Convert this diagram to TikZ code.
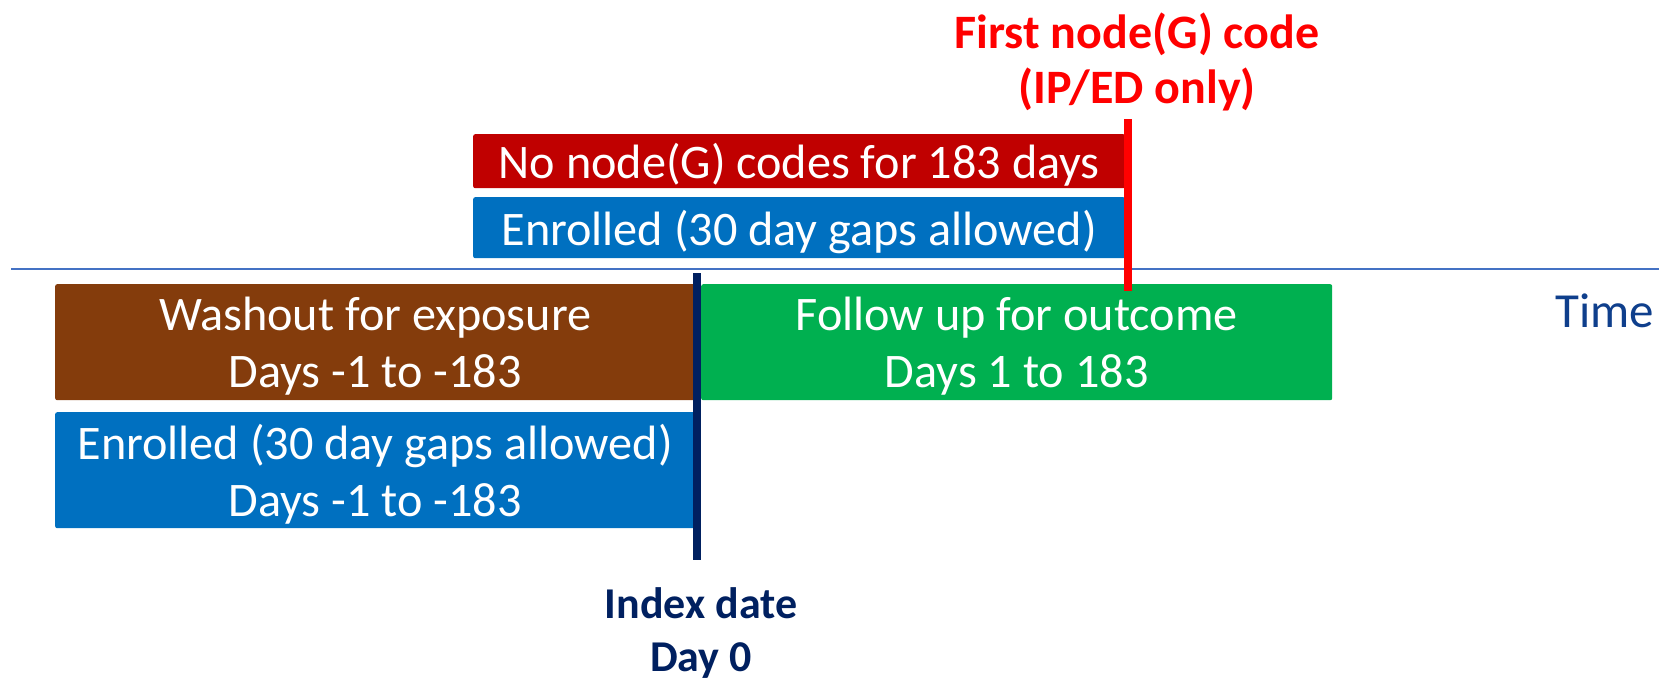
\documentclass[tikz,border=0pt]{standalone}
\usepackage{fontspec}
\setmainfont{Carlito}
\definecolor{boxred}{HTML}{C00000}
\definecolor{boxblue}{HTML}{0070C0}
\definecolor{boxbrown}{HTML}{843C0C}
\definecolor{boxgreen}{HTML}{00B050}
\definecolor{navy}{HTML}{002060}
\definecolor{axisblue}{HTML}{4472C4}
\definecolor{timeblue}{HTML}{0F3F8C}
\definecolor{brightred}{HTML}{FF0000}
\begin{document}
\begin{tikzpicture}[x=1pt,y=-1pt,
  box/.style={rectangle, rounded corners=2pt, text=white, align=center, inner sep=0pt, text depth=0pt, anchor=north west, font=\fontsize{48.2}{57}\selectfont},
  marker/.style={line width=8pt},
  lbl/.style={align=center, inner sep=0pt, anchor=base}]
\useasboundingbox (0,0) rectangle (1659,681);
\coordinate (axL) at (11,269);
\coordinate (axR) at (1659,269);
\draw[axisblue, line width=2pt] (axL) -- (axR);
\node[box, fill=boxred, minimum width=652pt, minimum height=54pt] (nog) at (473,134) {No node(G) codes for 183 days};
\node[box, fill=boxblue, minimum width=652pt, minimum height=61pt] (enr1) at (473,197) {Enrolled (30 day gaps allowed)};
\node[box, fill=boxbrown, minimum width=640pt, minimum height=116pt] (wash) at (55,284) {Washout for exposure\\Days -1 to -183};
\node[box, fill=boxblue, minimum width=640pt, minimum height=116pt] (enr2) at (55,412) {Enrolled (30 day gaps allowed)\\Days -1 to -183};
\node[box, fill=boxgreen, minimum width=631pt, minimum height=116pt] (fup) at (701,284) {Follow up for outcome\\Days 1 to 183};
\node[text=timeblue, inner sep=0pt, font=\fontsize{49}{58}\selectfont] (time) at (1605,311) {Time};
\coordinate (idxT) at (697,273);
\coordinate (idxB) at (697,560);
\draw[navy, marker] (idxT) -- (idxB);
\coordinate (evT) at (1128,119);
\coordinate (evB) at (1128,291);
\draw[brightred, marker, line width=7.5pt] (evT) -- (evB);
\node[lbl, text=navy, font=\bfseries\fontsize{44}{53}\selectfont] (idx) at (701,671) {Index date\\Day 0};
\node[lbl, text=brightred, font=\bfseries\fontsize{48}{55}\selectfont] (first) at (1137,103) {First node(G) code\\(IP/ED only)};
\end{tikzpicture}
\end{document}
